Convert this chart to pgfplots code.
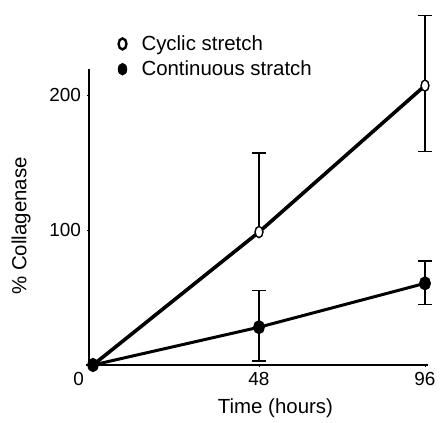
\documentclass[border=0pt]{standalone}
\usepackage{pgfplots}
\pgfplotsset{compat=1.18}
\usepackage{fontspec}
\setmainfont{Liberation Sans}
\begin{document}
\begin{tikzpicture}
\path[use as bounding box] (-89bp,-58bp) rectangle (352bp,365bp);
\begin{axis}[
  scale only axis,
  width=339bp, height=296bp,
  xmin=-1.157, xmax=96.87,
  ymin=0, ymax=219.3,
  axis lines=left,
  axis line style={-, line width=1.6pt},
  clip=false,
  xtick={0,48,96},
  xticklabels={\llap{0\hspace{9bp}},48,96},
  ytick={100,200},
  major tick length=3bp,
  tick style={line width=0.6pt, black},
  /pgf/number format/assume math mode=true,
  tick label style={font=\fontsize{19}{22}\selectfont},
  xticklabel style={yshift=-2bp},
  yticklabel style={xshift=-3bp},
  xlabel={Time (hours)},
  ylabel={\% Collagenase},
  every axis x label/.style={at={(axis description cs:0.55,-0.145)}, anchor=center, font=\fontsize{20.5}{24}\selectfont},
  every axis y label/.style={at={(axis description cs:-0.2,0.47)}, rotate=90, anchor=center, font=\fontsize{20.5}{24}\selectfont},
  legend style={draw=none, fill=none, at={(axis description cs:0.085,1.118)}, anchor=north west,
    font=\fontsize{20.5}{24}\selectfont, row sep=6bp, inner sep=0pt,
    nodes={inner sep=1.5bp},
    /tikz/every odd column/.append style={column sep=13bp}},
  legend cell align=left,
]
% legend images
\addlegendimage{only marks, mark=*, mark size=5.5bp, mark options={xscale=0.72, fill=white, draw=black, line width=2.4pt}}
\addlegendentry{Cyclic stretch}
\addlegendimage{only marks, mark=*, mark size=6bp, mark options={xscale=0.75, fill=black, draw=black}}
\addlegendentry{Continuous stratch}

% Cyclic stretch
\addplot[black, line width=3.6pt, mark=*, mark size=5.5bp,
  mark options={xscale=0.7, fill=white, draw=black, line width=1.3pt, solid}] coordinates {
  (0,0) (48,98.5) (96,207)
};
% error bars cyclic
\addplot[black, draw=none, forget plot,
  error bars/.cd, y dir=plus, y explicit,
  error bar style={line width=1.4pt},
  error mark options={rotate=90, mark size=7bp, line width=1.4pt}] coordinates {
  (48,98.5) += (0,58.5)
};
\addplot[black, draw=none, forget plot,
  error bars/.cd, y dir=both, y explicit,
  error bar style={line width=1.4pt},
  error mark options={rotate=90, mark size=7bp, line width=1.4pt}] coordinates {
  (96,207) += (0,52) -= (0,49)
};
% redraw cyclic marks on top
\addplot[black, draw=none, only marks, forget plot, mark=*, mark size=5.5bp,
  mark options={xscale=0.7, fill=white, draw=black, line width=1.3pt}] coordinates {
  (48,98.5) (96,207)
};

% Continuous stretch
\addplot[black, line width=3pt, mark=*, mark size=5.5bp,
  mark options={xscale=0.8, fill=black, draw=black, solid},
  error bars/.cd, y dir=both, y explicit,
  error bar style={line width=1.4pt},
  error mark options={rotate=90, mark size=7bp, line width=1.4pt}] coordinates {
  (0,0) +- (0,0)
  (48,28) += (0,27) -= (0,25)
  (96,60.5) += (0,16.5) -= (0,15.5)
};
\end{axis}
\end{tikzpicture}
\end{document}
